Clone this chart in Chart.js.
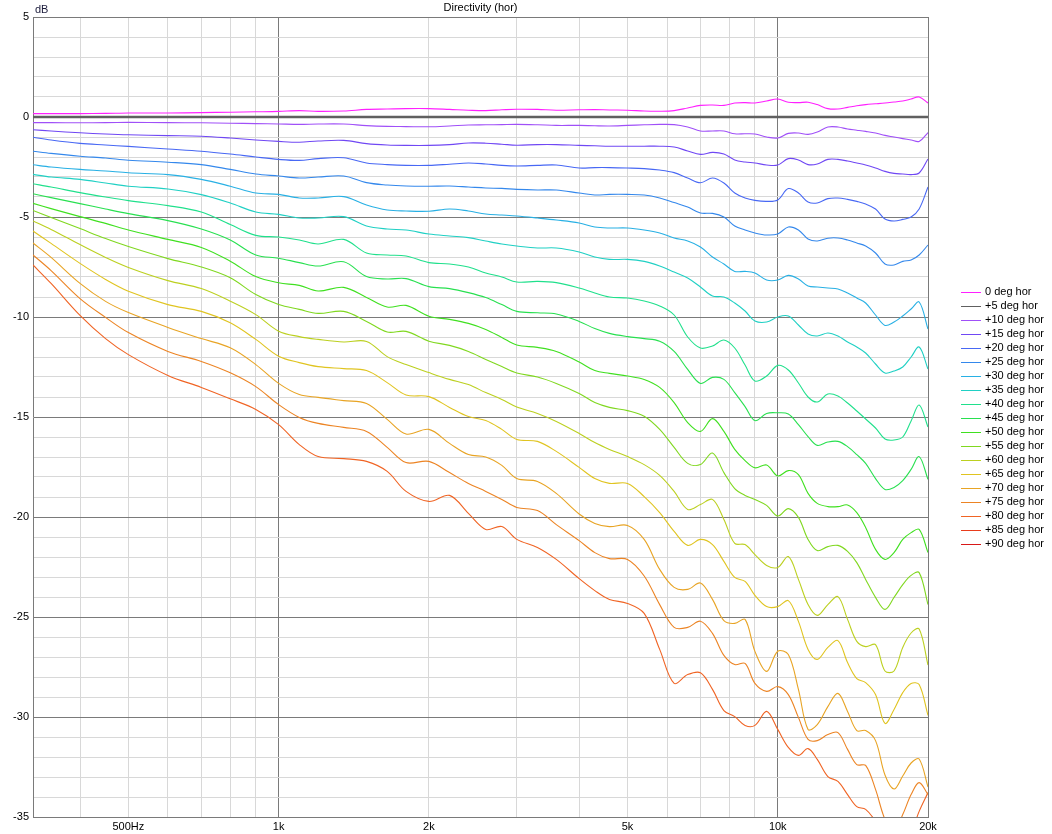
<!DOCTYPE html>
<html>
<head>
<meta charset="utf-8">
<script src="https://cdn.jsdelivr.net/npm/chart.js@4.4.1/dist/chart.umd.min.js"></script>
<style>
  html, body { margin: 0; padding: 0; background: #fff; }
  #wrap { width: 1052px; height: 834px; }
</style>
</head>
<body>
<div id="wrap"><canvas id="dir-chart" width="1052" height="834"></canvas></div>
<script>
// shared frequency grid (Hz), values below are dB
const freqs = [322, 350, 400, 450, 500, 600, 700, 800, 900, 1000, 1100, 1200, 1350, 1500, 1650, 1800, 2000, 2200, 2400, 2600,
  2800, 3000, 3300, 3600, 4000, 4300, 4600, 5000, 5400, 5800, 6200, 6600, 7000, 7400, 7800, 8200, 8600, 9000, 9500, 10000,
  10500, 11000, 11500, 12000, 12600, 13200, 13800, 14400, 15000, 15700, 16400, 17100, 17800, 18500, 19200, 20000];

const deg0 = [0.17, 0.17, 0.17, 0.18, 0.2, 0.2, 0.22, 0.24, 0.26, 0.28, 0.32, 0.28, 0.3, 0.38, 0.4, 0.42, 0.42, 0.38, 0.34, 0.32,
  0.36, 0.39, 0.38, 0.34, 0.36, 0.37, 0.35, 0.34, 0.3, 0.29, 0.32, 0.45, 0.58, 0.6, 0.58, 0.7, 0.72, 0.7, 0.8, 0.9,
  0.74, 0.72, 0.74, 0.62, 0.42, 0.4, 0.48, 0.56, 0.62, 0.66, 0.7, 0.75, 0.8, 0.9, 1.0, 0.7];
const deg5 = [0, 0, 0, 0, 0, 0, 0, 0, 0, 0, 0, 0, 0, 0, 0, 0, 0, 0, 0, 0,
  0, 0, 0, 0, 0, 0, 0, 0, 0, 0, 0, 0, 0, 0, 0, 0, 0, 0, 0, 0,
  0, 0, 0, 0, 0, 0, 0, 0, 0, 0, 0, 0, 0, 0, 0, 0];
const deg10 = [-0.28, -0.28, -0.29, -0.28, -0.27, -0.28, -0.29, -0.31, -0.33, -0.35, -0.37, -0.35, -0.35, -0.43, -0.47, -0.48, -0.49, -0.45, -0.4, -0.39,
  -0.38, -0.37, -0.39, -0.42, -0.42, -0.44, -0.45, -0.42, -0.39, -0.37, -0.38, -0.5, -0.7, -0.7, -0.7, -0.84, -0.84, -0.85, -1.0, -1.05,
  -0.82, -0.8, -0.87, -0.75, -0.5, -0.5, -0.6, -0.66, -0.72, -0.8, -0.92, -1.0, -1.08, -1.15, -1.22, -0.78];
const deg15 = [-0.64, -0.7, -0.79, -0.85, -0.89, -0.93, -0.96, -1.05, -1.15, -1.22, -1.26, -1.2, -1.17, -1.33, -1.4, -1.42, -1.42, -1.38, -1.3, -1.31,
  -1.36, -1.41, -1.38, -1.38, -1.42, -1.44, -1.46, -1.46, -1.46, -1.46, -1.5, -1.7, -1.87, -1.77, -1.85, -2.15, -2.25, -2.3, -2.4, -2.4,
  -2.08, -2.15, -2.38, -2.35, -2.12, -2.12, -2.2, -2.3, -2.4, -2.55, -2.72, -2.82, -2.85, -2.88, -2.8, -2.1];
const deg20 = [-1.01, -1.15, -1.32, -1.4, -1.47, -1.6, -1.71, -1.85, -2.0, -2.12, -2.17, -2.08, -2.04, -2.3, -2.38, -2.42, -2.42, -2.36, -2.3, -2.35,
  -2.42, -2.45, -2.42, -2.4, -2.55, -2.53, -2.53, -2.55, -2.58, -2.65, -2.78, -3.05, -3.29, -3.05, -3.3, -3.8, -4.05, -4.17, -4.22, -4.15,
  -3.58, -3.8, -4.25, -4.3, -4.08, -4.05, -4.12, -4.22, -4.35, -4.6, -5.1, -5.2, -5.12, -5.0, -4.6, -3.5];
const deg25 = [-1.71, -1.82, -1.96, -2.05, -2.16, -2.26, -2.38, -2.62, -2.85, -2.95, -3.05, -3.0, -2.95, -3.28, -3.4, -3.45, -3.46, -3.45, -3.5, -3.55,
  -3.57, -3.62, -3.65, -3.65, -3.8, -3.9, -3.87, -3.87, -3.9, -4.05, -4.28, -4.5, -4.8, -4.82, -5.0, -5.45, -5.65, -5.8, -5.9, -5.85,
  -5.5, -5.65, -6.1, -6.2, -6.06, -6.05, -6.15, -6.3, -6.45, -6.8, -7.35, -7.4, -7.22, -7.15, -6.9, -6.4];
const deg30 = [-2.39, -2.5, -2.62, -2.7, -2.79, -2.88, -3.12, -3.46, -3.8, -3.87, -4.05, -4.05, -3.98, -4.4, -4.65, -4.7, -4.71, -4.6, -4.7, -4.85,
  -4.9, -4.95, -5.05, -5.15, -5.3, -5.5, -5.55, -5.55, -5.65, -5.8, -6.05, -6.2, -6.5, -7.0, -7.35, -7.72, -7.72, -7.8, -8.15, -8.15,
  -7.92, -8.1, -8.45, -8.5, -8.55, -8.6, -8.8, -9.05, -9.3, -9.9, -10.42, -10.25, -9.95, -9.6, -9.25, -10.6];
const deg35 = [-2.87, -3.0, -3.12, -3.3, -3.46, -3.6, -3.88, -4.3, -4.75, -4.87, -5.05, -5.05, -4.98, -5.45, -5.6, -5.65, -5.85, -5.95, -6.03, -6.2,
  -6.35, -6.45, -6.55, -6.55, -6.75, -7.0, -7.12, -7.12, -7.22, -7.45, -7.75, -8.05, -8.5, -8.95, -9.0, -9.3, -9.7, -10.2, -10.25, -10.0,
  -9.95, -10.4, -10.85, -10.95, -10.8, -10.95, -11.25, -11.5, -11.8, -12.35, -12.8, -12.7, -12.5, -12.0, -11.5, -12.6];
const deg40 = [-3.34, -3.5, -3.78, -4.0, -4.18, -4.43, -4.75, -5.38, -5.92, -6.0, -6.15, -6.35, -6.12, -6.8, -6.9, -6.95, -7.28, -7.35, -7.5, -7.8,
  -8.0, -8.25, -8.22, -8.28, -8.55, -8.8, -9.0, -9.05, -9.2, -9.45, -9.9, -11.0, -11.55, -11.45, -11.15, -11.55, -12.4, -13.2, -12.95, -12.42,
  -12.65, -13.3, -14.0, -14.25, -13.85, -13.95, -14.3, -14.7, -15.1, -15.55, -16.1, -16.15, -16.0, -15.2, -14.4, -15.5];
const deg45 = [-3.84, -4.03, -4.33, -4.6, -4.83, -5.18, -5.6, -6.15, -6.9, -7.06, -7.28, -7.45, -7.24, -7.98, -8.1, -8.08, -8.48, -8.58, -8.78, -9.03,
  -9.38, -9.72, -9.79, -9.85, -10.22, -10.58, -10.82, -10.98, -11.08, -11.21, -11.72, -12.62, -13.32, -13.02, -13.12, -13.78, -14.48, -15.18, -14.82, -14.79,
  -14.85, -15.38, -15.98, -16.42, -16.25, -16.22, -16.48, -16.88, -17.32, -18.08, -18.62, -18.52, -18.18, -17.62, -16.98, -18.12];
const deg50 = [-4.32, -4.58, -4.98, -5.32, -5.65, -6.12, -6.52, -7.21, -7.98, -8.29, -8.42, -8.7, -8.52, -9.02, -9.5, -9.42, -9.96, -10.12, -10.32, -10.62,
  -11.02, -11.4, -11.52, -11.72, -12.25, -12.68, -12.82, -12.95, -13.12, -13.52, -14.28, -15.28, -15.72, -15.08, -15.72, -16.62, -17.18, -17.54, -17.4, -17.95,
  -17.68, -17.88, -18.82, -19.32, -19.48, -19.48, -19.4, -19.78, -20.52, -21.62, -22.12, -21.78, -21.12, -20.78, -20.62, -21.78];
const deg55 = [-4.67, -5.02, -5.58, -6.08, -6.48, -7.08, -7.5, -8.04, -8.88, -9.38, -9.62, -9.82, -9.72, -10.22, -10.75, -10.72, -11.21, -11.42, -11.72, -12.12,
  -12.48, -12.8, -13.0, -13.32, -13.82, -14.28, -14.52, -14.68, -14.96, -15.62, -16.52, -17.32, -17.38, -16.8, -17.78, -18.58, -18.92, -19.12, -19.42, -19.95,
  -19.58, -20.02, -21.12, -21.68, -21.48, -21.42, -21.72, -22.28, -23.12, -24.02, -24.62, -24.02, -23.38, -22.92, -22.78, -24.38];
const deg60 = [-5.2, -5.62, -6.38, -7.02, -7.52, -8.18, -8.58, -9.21, -9.88, -10.71, -10.98, -11.12, -11.25, -11.22, -11.98, -12.38, -12.78, -13.12, -13.38, -13.78,
  -14.12, -14.5, -14.82, -15.22, -15.82, -16.28, -16.62, -16.98, -17.38, -17.92, -18.72, -19.62, -19.38, -19.12, -20.12, -21.32, -21.38, -21.88, -22.42, -22.52,
  -21.98, -23.12, -24.38, -24.92, -24.38, -23.98, -25.12, -26.22, -26.48, -26.38, -27.7, -27.7, -26.52, -25.8, -25.6, -27.4];
const deg65 = [-5.7, -6.32, -7.32, -8.12, -8.71, -9.38, -9.72, -10.29, -11.12, -11.96, -12.28, -12.48, -12.58, -12.68, -13.28, -13.9, -13.98, -14.52, -14.98, -15.18,
  -15.62, -16.12, -16.22, -16.72, -17.52, -18.08, -18.32, -18.32, -18.98, -19.78, -20.72, -21.42, -21.12, -21.38, -22.22, -23.02, -23.22, -23.92, -24.48, -24.48,
  -24.18, -25.22, -26.62, -27.12, -26.52, -26.18, -27.28, -28.08, -28.28, -28.88, -30.32, -29.62, -28.78, -28.32, -28.38, -29.92];
const deg70 = [-6.3, -7.02, -8.32, -9.22, -9.78, -10.52, -11.08, -11.54, -12.38, -13.32, -13.88, -14.02, -14.18, -14.32, -15.12, -15.85, -15.62, -16.32, -16.88, -17.0,
  -17.42, -18.08, -18.22, -18.82, -19.85, -20.32, -20.48, -20.42, -21.12, -22.62, -23.52, -23.62, -23.3, -24.12, -25.18, -25.32, -25.12, -26.72, -27.72, -26.71,
  -26.88, -28.62, -30.62, -30.38, -29.48, -28.82, -29.72, -30.68, -30.68, -31.18, -32.9, -33.6, -32.95, -32.3, -32.1, -33.5];
const deg75 = [-6.9, -7.68, -9.08, -10.02, -10.78, -11.72, -12.22, -12.79, -13.48, -14.38, -15.02, -15.32, -15.52, -15.72, -16.52, -17.28, -17.22, -17.78, -18.32, -18.72,
  -19.12, -19.52, -19.68, -20.38, -21.18, -21.78, -22.08, -22.12, -22.95, -24.38, -25.52, -25.52, -25.21, -25.82, -26.92, -27.38, -27.32, -28.32, -28.72, -28.48,
  -28.88, -30.02, -31.12, -31.18, -30.88, -30.78, -31.62, -32.38, -32.42, -33.62, -35.12, -35.72, -34.88, -33.88, -33.28, -33.88];
const deg80 = [-7.4, -8.32, -9.92, -11.08, -11.88, -12.92, -13.52, -14.09, -14.62, -15.38, -16.38, -16.98, -17.08, -17.22, -17.72, -18.72, -19.22, -18.92, -19.82, -20.62,
  -20.48, -21.12, -21.52, -22.12, -23.08, -23.68, -24.12, -24.32, -24.82, -26.62, -28.32, -27.88, -27.79, -28.62, -29.68, -29.98, -30.42, -30.42, -29.72, -30.62,
  -31.52, -31.92, -31.58, -32.12, -32.98, -33.22, -33.88, -34.48, -34.62, -35.22, -36.12, -36.62, -36.38, -35.78, -34.72, -33.78];
// +85 and +90 never come into the visible range
const deg85 = [];
const deg90 = [];

const labels = ['0 deg hor', '+5 deg hor', '+10 deg hor', '+15 deg hor', '+20 deg hor', '+25 deg hor', '+30 deg hor',
  '+35 deg hor', '+40 deg hor', '+45 deg hor', '+50 deg hor', '+55 deg hor', '+60 deg hor', '+65 deg hor',
  '+70 deg hor', '+75 deg hor', '+80 deg hor', '+85 deg hor', '+90 deg hor'];
const colors = ['#ff20ff', '#606060', '#a050f8', '#7048f4', '#4868f4', '#3488ec', '#28b0e4', '#20d0c4', '#20e08c',
  '#28e050', '#40e020', '#80d820', '#bcd020', '#e0c420', '#e8a424', '#ec8424', '#f06424', '#e83c1c', '#d81818'];
const series = [deg0, deg5, deg10, deg15, deg20, deg25, deg30, deg35, deg40, deg45, deg50, deg55, deg60, deg65,
  deg70, deg75, deg80, deg85, deg90];

const xTickValues = [400, 500, 600, 700, 800, 900, 1000, 2000, 3000, 4000, 5000, 6000, 7000, 8000, 9000, 10000, 20000];
const xTickText = { 500: '500Hz', 1000: '1k', 2000: '2k', 5000: '5k', 10000: '10k', 20000: '20k' };

const MAJOR = '#7a7a7a';
const MINOR = '#d8d8d8';
const FONT = { family: "'Liberation Sans', Arial, sans-serif", size: 11 };

const datasets = series.map((vals, i) => ({
  label: labels[i],
  data: vals.map((v, k) => ({ x: freqs[k], y: v })),
  borderColor: colors[i],
  backgroundColor: colors[i],
  borderWidth: i === 1 ? 2.5 : 1.1,
  pointRadius: 0,
  tension: 0.35,
  fill: false
}));

// title, dB unit and the legend list are painted straight on the canvas
const extras = {
  id: 'extras',
  afterDraw(chart) {
    const c = chart.ctx;
    c.save();
    c.font = `${FONT.size}px ${FONT.family}`;
    c.fillStyle = '#000';
    c.textBaseline = 'middle';
    c.textAlign = 'center';
    c.fillText('Directivity (hor)', (chart.chartArea.left + chart.chartArea.right) / 2, 8);
    c.textAlign = 'left';
    c.fillStyle = '#1c1c3c';
    c.fillText('dB', 35, 10);
    c.fillStyle = '#000';
    chart.data.datasets.forEach((ds, i) => {
      const y = 292 + i * 14;
      c.strokeStyle = ds.borderColor;
      c.lineWidth = 1;
      c.beginPath();
      c.moveTo(961, y + 0.5);
      c.lineTo(981, y + 0.5);
      c.stroke();
      c.fillText(ds.label, 985, y);
    });
    c.restore();
  }
};

var ctx = document.getElementById('dir-chart').getContext('2d');
const config = {
  type: 'line',
  data: { datasets: datasets },
  options: {
    responsive: false,
    animation: false,
    layout: { padding: { left: 0, right: 124, top: 17, bottom: 0 } },
    plugins: {
      legend: { display: false },
      title: { display: false },
      tooltip: { enabled: false }
    },
    scales: {
      x: {
        type: 'logarithmic',
        min: 322,
        max: 20000,
        afterBuildTicks: (scale) => { scale.ticks = xTickValues.map(v => ({ value: v })); },
        afterFit: (scale) => { scale.height = 17; },
        ticks: {
          autoSkip: false,
          maxRotation: 0,
          padding: 3,
          color: '#000',
          font: FONT,
          callback: (v) => xTickText[v] || ''
        },
        grid: {
          drawTicks: false,
          color: (c) => (c.tick && [1000, 10000, 20000].includes(c.tick.value)) ? MAJOR : MINOR
        },
        border: { display: true, color: MAJOR }
      },
      y: {
        min: -35,
        max: 5,
        afterFit: (scale) => { scale.width = 33; },
        ticks: {
          stepSize: 1,
          autoSkip: false,
          padding: 4,
          color: '#000',
          font: FONT,
          callback: (v) => (v % 5 === 0 ? String(v) : '')
        },
        grid: {
          drawTicks: false,
          color: (c) => (c.tick && c.tick.value % 5 === 0) ? MAJOR : MINOR
        },
        border: { display: true, color: MAJOR }
      }
    }
  },
  plugins: [extras]
};
var dirChart = new Chart(ctx, config);
</script>
</body>
</html>
